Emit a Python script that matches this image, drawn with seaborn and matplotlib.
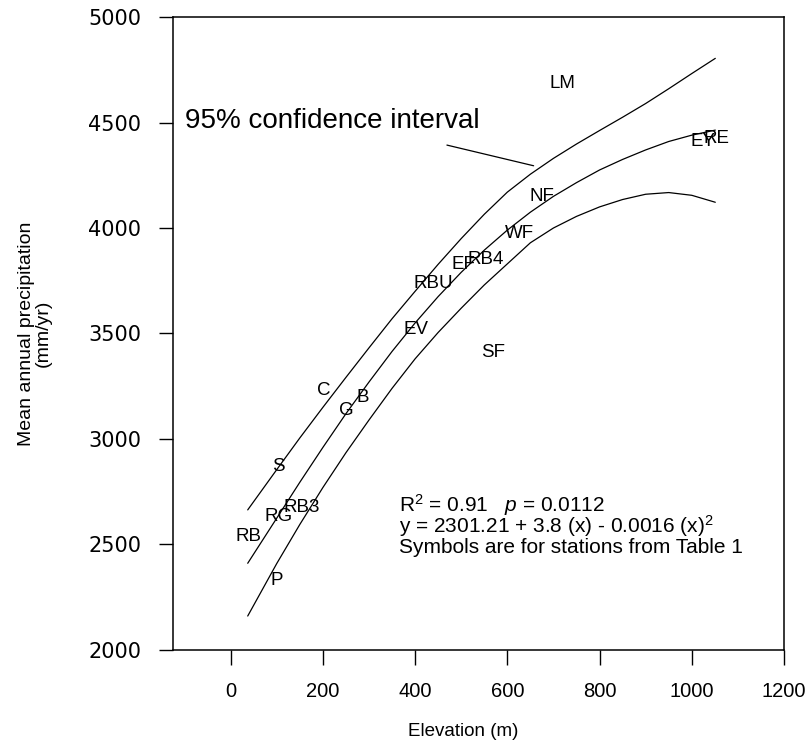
import numpy as np
import pandas as pd
import matplotlib
matplotlib.use("Agg")
import matplotlib.pyplot as plt
import seaborn as sns

# ---- data ----
stations = ["LM", "NF", "WF", "RB4", "EF", "RBU", "EV", "SF", "C", "B", "G",
            "S", "RB3", "RG", "RB", "P", "EY", "RE"]
station_elev = [719, 676, 626, 552, 504, 440, 403, 570, 201, 286, 251,
                103, 153, 104, 38, 100, 1025, 1054]
station_precip = [4687, 4147, 3976, 3853, 3829, 3739, 3517, 3412, 3232, 3199, 3133,
                  2872, 2673, 2635, 2536, 2327, 4408, 4422]

curve_x = [37, 100, 150, 200, 250, 300, 350, 400, 450, 500, 550,
           600, 650, 700, 750, 800, 850, 900, 950, 1000, 1051]
upper_ci = [2664, 2855, 3005, 3150, 3292, 3432, 3570, 3700, 3828, 3950, 4065,
            4170, 4255, 4330, 4398, 4462, 4525, 4590, 4660, 4732, 4804]
fit_curve = [2411, 2625, 2795, 2960, 3120, 3270, 3415, 3550, 3675, 3790, 3895,
             3990, 4075, 4150, 4215, 4275, 4325, 4370, 4410, 4440, 4464]
lower_ci = [2161, 2410, 2595, 2770, 2935, 3090, 3240, 3380, 3505, 3620, 3730,
            3830, 3930, 4000, 4055, 4100, 4135, 4160, 4168, 4155, 4122]

pointer_x = [469, 657]
pointer_y = [4393, 4295]

x_ticks = [0, 200, 400, 600, 800, 1000, 1200]
y_ticks = [2000, 2500, 3000, 3500, 4000, 4500, 5000]

# ---- style ----
sns.set_theme(style="white")
plt.rcParams["font.family"] = ["Liberation Sans", "DejaVu Sans"]
plt.rcParams["mathtext.fontset"] = "custom"
plt.rcParams["mathtext.rm"] = "Liberation Sans"
plt.rcParams["mathtext.it"] = "Liberation Sans:italic"
for k in ["text.color", "axes.labelcolor", "xtick.color", "ytick.color", "axes.edgecolor"]:
    plt.rcParams[k] = "black"

fig = plt.figure(figsize=(8.1, 7.46), dpi=100)
ax = fig.add_axes([0.2136, 0.1287, 0.7543, 0.8485])

curves = pd.DataFrame({
    "x": curve_x * 3,
    "y": upper_ci + fit_curve + lower_ci,
    "curve": ["upper"] * len(curve_x) + ["fit"] * len(curve_x) + ["lower"] * len(curve_x),
})
for name in ["upper", "fit", "lower"]:
    sns.lineplot(data=curves[curves["curve"] == name], x="x", y="y",
                 color="black", lw=0.9, ax=ax, sort=True, estimator=None)

for lab, xv, yv in zip(stations, station_elev, station_precip):
    ax.text(xv, yv, lab, ha="center", va="center", fontsize=13.5, color="black")

ax.plot(pointer_x, pointer_y, color="black", lw=0.9)
ax.text(-98, 4473, "95% confidence interval", fontsize=20, ha="left", va="baseline")

ax.text(364, 2655, r"R$^2$ = $\mathit{0.91}$   $\mathit{p}$ = $\mathit{0.0112}$",
        fontsize=15, ha="left", va="baseline")
ax.text(364, 2556, r"y = 2301.21 + 3.8 (x) - 0.0016 (x)$^2$",
        fontsize=15, ha="left", va="baseline")
ax.text(364, 2461, "Symbols are for stations from Table 1",
        fontsize=15, ha="left", va="baseline")

ax.set_xlim(-125, 1200)
ax.set_ylim(2000, 5000)
ax.set_xticks(x_ticks)
ax.set_yticks(y_ticks)
ax.set_xticklabels([str(t) for t in x_ticks], fontsize=14.5)
ax.set_yticklabels([str(t) for t in y_ticks], fontsize=15, family="DejaVu Sans")
ax.tick_params(axis="x", direction="out", length=11, width=1, pad=12, bottom=True, top=False)
ax.tick_params(axis="y", direction="out", length=10, width=1, pad=13, left=True, right=False)

for s in ax.spines.values():
    s.set_visible(True)
    s.set_color("black")
    s.set_linewidth(1.1)

ax.set_xlabel("Elevation (m)", fontsize=13.5)
ax.set_ylabel("Mean annual precipitation\n(mm/yr)", fontsize=14, linespacing=1.0)
ax.xaxis.set_label_coords(0.475, -0.115)
ax.yaxis.set_label_coords(-0.198, 0.5)
ax.grid(False)

fig.savefig("out.png", dpi=100, facecolor="white")
